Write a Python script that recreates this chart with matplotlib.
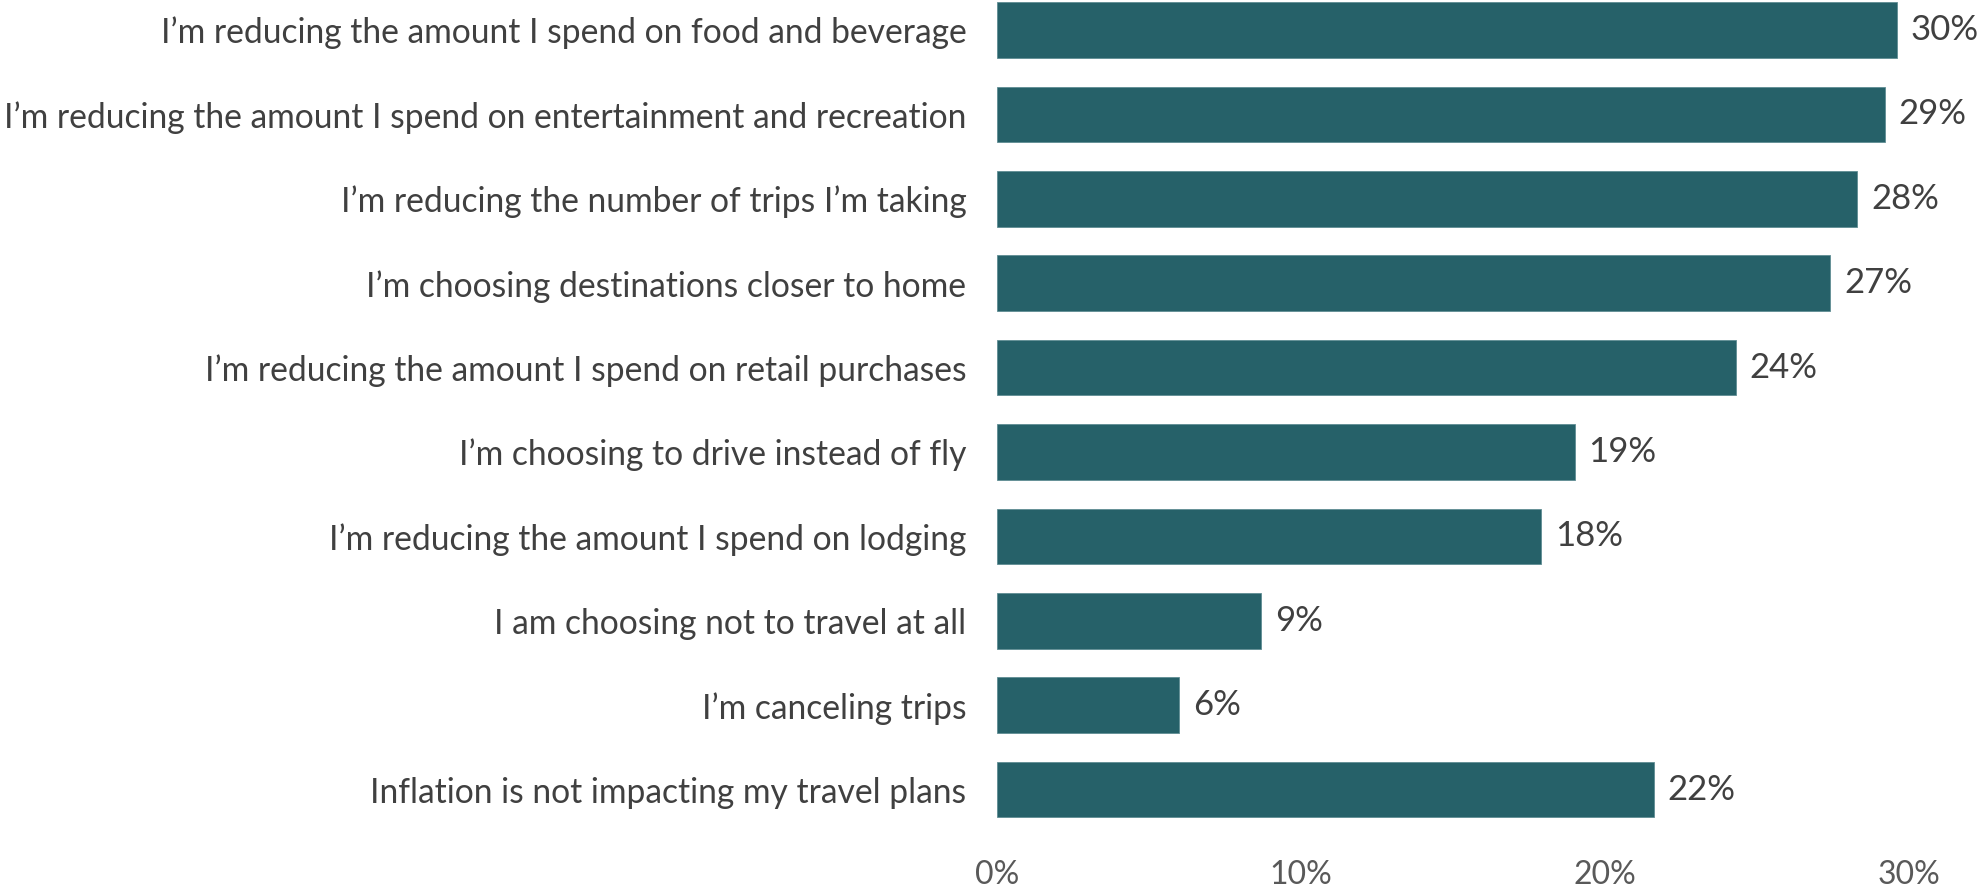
import matplotlib
matplotlib.use("Agg")
import matplotlib.pyplot as plt
from matplotlib.ticker import FuncFormatter

categories = [
    "I\u2019m reducing the amount I spend on food and beverage",
    "I\u2019m reducing the amount I spend on entertainment and recreation",
    "I\u2019m reducing the number of trips I\u2019m taking",
    "I\u2019m choosing destinations closer to home",
    "I\u2019m reducing the amount I spend on retail purchases",
    "I\u2019m choosing to drive instead of fly",
    "I\u2019m reducing the amount I spend on lodging",
    "I am choosing not to travel at all",
    "I\u2019m canceling trips",
    "Inflation is not impacting my travel plans",
]
values = [29.6, 29.2, 28.3, 27.4, 24.3, 19.0, 17.9, 8.7, 6.0, 21.6]
xticks = [0, 10, 20, 30]

plt.rcParams['font.family'] = ['Lato', 'DejaVu Sans']

fig = plt.figure(figsize=(19.77, 8.88), dpi=100)
W, H = 1977, 888
left, right = 997, 1909
top, bottom = -12.2, 831.8
ax = fig.add_axes([left / W, 1 - bottom / H, (right - left) / W, (bottom - top) / H])

bar_color = "#266169"
y = list(range(len(categories)))
ax.barh(y, values, height=0.66, color=bar_color, edgecolor="#5f8d93", linewidth=0.6)
ax.set_ylim(len(categories) - 0.5, -0.5)
ax.set_xlim(0, 30)
ax.set_yticks(y)
ax.set_yticklabels(categories, fontsize=24.2, color="#404040")
ax.set_xticks(xticks)
ax.xaxis.set_major_formatter(FuncFormatter(lambda v, p: f"{v:.0f}%"))
ax.tick_params(axis="x", labelsize=23, colors="#595959", length=0, pad=20)
ax.tick_params(axis="y", length=0, pad=22)
for s in ax.spines.values():
    s.set_visible(False)

for yi, v in zip(y, values):
    ax.annotate(f"{v:.0f}%", (v, yi), xytext=(14, 0), textcoords="offset pixels",
                va="center", ha="left", fontsize=25, color="#404040",
                annotation_clip=False)

fig.savefig("out.png", dpi=100)
